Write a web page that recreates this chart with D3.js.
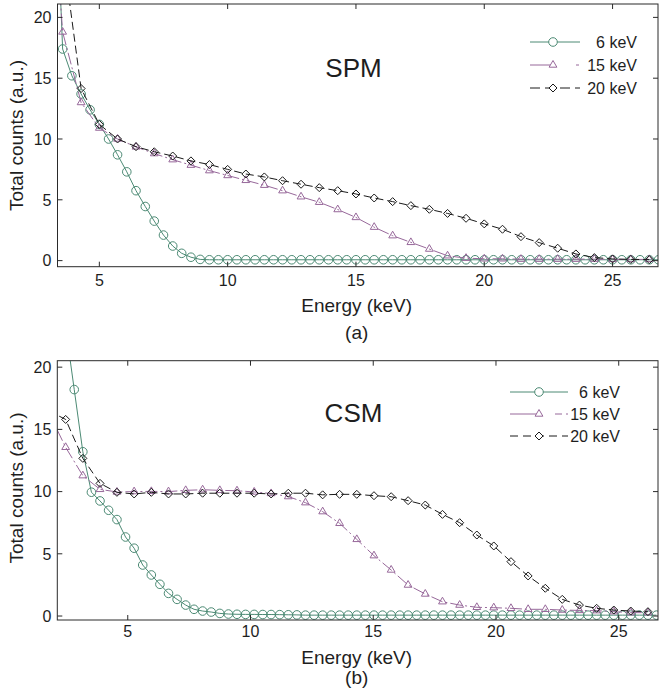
<!DOCTYPE html>
<html>
<head>
<meta charset="utf-8">
<script src="https://cdn.jsdelivr.net/npm/d3@7"></script>
<style>
body { margin: 0; background: #fff; }
text { font-family: Arial, "Liberation Sans", sans-serif; fill: #1e1e1e; }
</style>
</head>
<body>
<div id="chart"></div>
<script>
// energy grids (keV)
var energyFineA = [3.21, 3.57, 3.93, 4.29, 4.64, 5.00, 5.36, 5.71, 6.07, 6.43,
  6.79, 7.14, 7.50, 7.86, 8.21, 8.57, 8.93, 9.29, 9.64, 10.00,
  10.36, 10.71, 11.07, 11.43, 11.79, 12.14, 12.50, 12.86, 13.21, 13.57,
  13.93, 14.29, 14.64, 15.00, 15.36, 15.71, 16.07, 16.43, 16.79, 17.14,
  17.50, 17.86, 18.21, 18.57, 18.93, 19.29, 19.64, 20.00, 20.36, 20.71,
  21.07, 21.43, 21.79, 22.14, 22.50, 22.86, 23.21, 23.57, 23.93, 24.29,
  24.64, 25.00, 25.36, 25.71, 26.07, 26.43, 26.79];
var energyCoarseA = [2.86, 3.57, 4.29, 5.00, 5.71, 6.43, 7.14, 7.86, 8.57, 9.29,
  10.00, 10.71, 11.43, 12.14, 12.86, 13.57, 14.29, 15.00, 15.71, 16.43,
  17.14, 17.86, 18.57, 19.29, 20.00, 20.71, 21.43, 22.14, 22.86, 23.57,
  24.29, 25.00, 25.71, 26.43];
var energyFineB = [2.47, 2.82, 3.17, 3.52, 3.87, 4.22, 4.56, 4.91, 5.26, 5.61,
  5.96, 6.31, 6.66, 7.01, 7.36, 7.70, 8.05, 8.40, 8.75, 9.10,
  9.45, 9.80, 10.15, 10.50, 10.84, 11.19, 11.54, 11.89, 12.24, 12.59,
  12.94, 13.29, 13.63, 13.98, 14.33, 14.68, 15.03, 15.38, 15.73, 16.08,
  16.42, 16.77, 17.12, 17.47, 17.82, 18.17, 18.52, 18.87, 19.22, 19.57,
  19.91, 20.26, 20.61, 20.96, 21.31, 21.66, 22.01, 22.36, 22.70, 23.05,
  23.40, 23.75, 24.10, 24.45, 24.80, 25.15, 25.49, 25.84, 26.19, 26.54];
var energyCoarseB = [1.77, 2.47, 3.17, 3.87, 4.56, 5.26, 5.96, 6.66, 7.36, 8.05,
  8.75, 9.45, 10.15, 10.84, 11.54, 12.24, 12.94, 13.63, 14.33, 15.03,
  15.73, 16.42, 17.12, 17.82, 18.52, 19.22, 19.91, 20.61, 21.31, 22.01,
  22.70, 23.40, 24.10, 24.80, 25.49, 26.19];

// total counts, panel (a) SPM
var spm6 = [36, 17.4, 15.2, 13.7, 12.4, 11.2, 10.0, 8.7, 7.3, 5.75,
  4.45, 3.25, 2.1, 1.2, 0.6, 0.28, 0.1, 0.07, 0.07, 0.07,
  0.07, 0.07, 0.07, 0.07, 0.07, 0.07, 0.07, 0.07, 0.07, 0.07,
  0.07, 0.07, 0.07, 0.07, 0.07, 0.07, 0.07, 0.07, 0.07, 0.07,
  0.07, 0.07, 0.07, 0.07, 0.07, 0.07, 0.07, 0.07, 0.07, 0.07,
  0.07, 0.07, 0.07, 0.07, 0.07, 0.07, 0.07, 0.07, 0.07, 0.07,
  0.07, 0.07, 0.07, 0.07, 0.07, 0.07, 0.07];
var spm15 = [40, 18.8, 13.0, 10.9, 10.0, 9.35, 8.8, 8.3, 7.85, 7.4,
  7.0, 6.6, 6.2, 5.75, 5.25, 4.8, 4.2, 3.55, 2.75, 2.05,
  1.5, 0.95, 0.4, 0.2, 0.15, 0.15, 0.12, 0.12, 0.12, 0.12,
  0.12, 0.1, 0.1, 0.1];
// 20 keV starts one step later (energyCoarseA[1])
var spm20 = [25.5, 14.15, 11.2, 10.0, 9.37, 8.95, 8.6, 8.2, 7.9, 7.5,
  7.12, 6.88, 6.57, 6.28, 6.0, 5.75, 5.48, 5.15, 4.85, 4.52,
  4.22, 3.88, 3.48, 3.02, 2.58, 1.97, 1.48, 1.02, 0.55, 0.25,
  0.14, 0.1, 0.08];

// total counts, panel (b) CSM
var csm6 = [23.2, 18.2, 13.2, 9.95, 9.25, 8.5, 7.75, 6.35, 5.45, 4.1,
  3.3, 2.55, 1.82, 1.34, 0.88, 0.54, 0.4, 0.32, 0.21, 0.16,
  0.14, 0.13, 0.13, 0.12, 0.12, 0.11, 0.1, 0.09, 0.07, 0.07,
  0.07, 0.07, 0.07, 0.07, 0.07, 0.07, 0.07, 0.07, 0.07, 0.07,
  0.07, 0.07, 0.07, 0.07, 0.07, 0.07, 0.07, 0.07, 0.07, 0.07,
  0.07, 0.07, 0.07, 0.07, 0.07, 0.07, 0.07, 0.07, 0.07, 0.07,
  0.07, 0.07, 0.07, 0.07, 0.07, 0.07, 0.07, 0.07, 0.07, 0.07];
var csm15 = [16.4, 13.56, 11.28, 10.18, 9.97, 10.0, 10.02, 10.0, 10.1, 10.15,
  10.1, 10.07, 9.97, 9.85, 9.6, 9.11, 8.39, 7.45, 6.16, 4.85,
  3.7, 2.49, 1.77, 1.15, 0.88, 0.7, 0.67, 0.62, 0.54, 0.54,
  0.48, 0.45, 0.43, 0.35, 0.27, 0.27];
var csm20 = [16.5, 15.8, 12.67, 10.66, 9.94, 9.81, 9.94, 9.81, 9.81, 9.87,
  9.87, 9.87, 9.87, 9.81, 9.87, 9.87, 9.74, 9.78, 9.78, 9.67,
  9.59, 9.27, 8.92, 8.17, 7.5, 6.51, 5.63, 4.37, 3.22, 2.23,
  1.34, 0.88, 0.62, 0.48, 0.4, 0.35];

var xTicks = [5, 10, 15, 20, 25];
var yTicks = [0, 5, 10, 15, 20];
var seriesNames = ["6 keV", "15 keV", "20 keV"];

var green = "#4c8a74", purple = "#97689a", black = "#1a1a1a";

var svg = d3.select("#chart").append("svg")
    .attr("width", 660)
    .attr("height", 700);

// marker shapes
function markerPath(kind) {
  if (kind == "tri") return "M0,-4.5L3.9,2.2L-3.9,2.2Z";
  if (kind == "dia") return "M0,-4L4,0L0,4L-4,0Z";
  return null;
}

function zip(xs, ys) {
  return ys.map(function(v, i) { return {e: xs[i], v: v}; });
}

var panels = [
  {id: "a", name: "SPM", left: 57.5, right: 658, top: 4, bottom: 266.7,
   xDomain: [3.37, 26.77], yDomain: [-0.5, 21.1], tickLabelY: 285.5,
   titleY: 312, capY: 339, yLabelY: 135.5, nameY: 77,
   legend: {x0: 530, x1: 580, xm: 553, xt: 637, y: [42, 65, 88],
            dash15: "22,24,3,10", dash20: "10,5"},
   series: [
     {data: zip(energyFineA, spm6), color: green, mark: "circle", dash: null},
     {data: zip(energyCoarseA, spm15), color: purple, mark: "tri", dash: "12,3,2,3"},
     {data: zip(energyCoarseA.slice(1), spm20), color: black, mark: "dia", dash: "8,4"}
   ]},
  {id: "b", name: "CSM", left: 57.3, right: 658, top: 360.7, bottom: 620,
   xDomain: [2.13, 26.6], yDomain: [-0.32, 20.52], tickLabelY: 637,
   titleY: 663.5, capY: 683.5, yLabelY: 488, nameY: 421.5,
   legend: {x0: 510, x1: 568, xm: 539, xt: 620, y: [392, 414, 436],
            dash15: "28,17,7,4,2,10", dash20: "8,5"},
   series: [
     {data: zip(energyFineB, csm6), color: green, mark: "circle", dash: null},
     {data: zip(energyCoarseB, csm15), color: purple, mark: "tri", dash: "12,3,2,3"},
     {data: zip(energyCoarseB, csm20), color: black, mark: "dia", dash: "8,4"}
   ]}
];

panels.forEach(function(p) {
  var x = d3.scaleLinear().domain(p.xDomain).range([p.left, p.right]);
  var y = d3.scaleLinear().domain(p.yDomain).range([p.bottom, p.top]);
  var w = p.right - p.left, h = p.bottom - p.top;

  svg.append("clipPath").attr("id", "clip-" + p.id)
    .append("rect")
      .attr("x", p.left).attr("y", p.top)
      .attr("width", w).attr("height", h);

  var plot = svg.append("g").attr("clip-path", "url(#clip-" + p.id + ")");

  var line = d3.line()
      .x(function(d) { return x(d.e); })
      .y(function(d) { return y(d.v); });

  p.series.forEach(function(s) {
    plot.append("path")
        .datum(s.data)
        .attr("d", line)
        .attr("fill", "none")
        .attr("stroke", s.color)
        .attr("stroke-width", 1)
        .attr("stroke-dasharray", s.dash);

    var pts = plot.selectAll(null).data(s.data).enter();
    if (s.mark == "circle") {
      pts.append("circle")
          .attr("cx", function(d) { return x(d.e); })
          .attr("cy", function(d) { return y(d.v); })
          .attr("r", 4.3)
          .attr("fill", "none")
          .attr("stroke", s.color);
    } else {
      pts.append("path")
          .attr("d", markerPath(s.mark))
          .attr("transform", function(d) { return "translate(" + x(d.e) + "," + y(d.v) + ")"; })
          .attr("fill", "none")
          .attr("stroke", s.color);
    }
  });

  // frame
  svg.append("rect")
      .attr("x", p.left).attr("y", p.top)
      .attr("width", w).attr("height", h)
      .attr("fill", "none")
      .attr("stroke", "#2a2a2a")
      .attr("stroke-width", 1);

  // inward ticks on all four sides
  var tk = svg.append("g").attr("stroke", "#2a2a2a").attr("stroke-width", 1);
  xTicks.forEach(function(t) {
    tk.append("line").attr("x1", x(t)).attr("x2", x(t)).attr("y1", p.bottom).attr("y2", p.bottom - 5);
    tk.append("line").attr("x1", x(t)).attr("x2", x(t)).attr("y1", p.top).attr("y2", p.top + 5);
  });
  yTicks.forEach(function(t) {
    tk.append("line").attr("x1", p.left).attr("x2", p.left + 5).attr("y1", y(t)).attr("y2", y(t));
    tk.append("line").attr("x1", p.right).attr("x2", p.right - 5).attr("y1", y(t)).attr("y2", y(t));
  });

  svg.selectAll(null).data(xTicks).enter().append("text")
      .attr("x", function(d) { return x(d); })
      .attr("y", p.tickLabelY)
      .attr("text-anchor", "middle")
      .style("font-size", "16px")
      .text(function(d) { return d; });

  svg.selectAll(null).data(yTicks).enter().append("text")
      .attr("x", p.left - 6)
      .attr("y", function(d) { return y(d); })
      .attr("dy", "0.36em")
      .attr("text-anchor", "end")
      .style("font-size", "16px")
      .text(function(d) { return d; });

  // axis titles and caption
  svg.append("text")
      .attr("x", 356.7).attr("y", p.titleY)
      .attr("text-anchor", "middle")
      .style("font-size", "19px")
      .text("Energy (keV)");
  svg.append("text")
      .attr("x", 356.7).attr("y", p.capY)
      .attr("text-anchor", "middle")
      .style("font-size", "19px")
      .text("(" + p.id + ")");
  svg.append("text")
      .attr("transform", "translate(23," + p.yLabelY + ") rotate(-90)")
      .attr("text-anchor", "middle")
      .style("font-size", "19px")
      .text("Total counts (a.u.)");

  svg.append("text")
      .attr("x", 353.5).attr("y", p.nameY)
      .attr("text-anchor", "middle")
      .style("font-size", "26px")
      .text(p.name);

  // legend
  var lg = p.legend;
  var dashes = [null, lg.dash15, lg.dash20];
  p.series.forEach(function(s, i) {
    var ly = lg.y[i];
    svg.append("line")
        .attr("x1", lg.x0).attr("x2", lg.x1)
        .attr("y1", ly).attr("y2", ly)
        .attr("stroke", s.color)
        .attr("stroke-dasharray", dashes[i]);
    if (s.mark == "circle") {
      svg.append("circle").attr("cx", lg.xm).attr("cy", ly).attr("r", 4.3)
          .attr("fill", "#fff").attr("stroke", s.color);
    } else {
      svg.append("path").attr("d", markerPath(s.mark))
          .attr("transform", "translate(" + lg.xm + "," + ly + ")")
          .attr("fill", "#fff").attr("stroke", s.color);
    }
    svg.append("text")
        .attr("x", lg.xt).attr("y", ly)
        .attr("dy", "0.36em")
        .attr("text-anchor", "end")
        .style("font-size", "16px")
        .text(seriesNames[i]);
  });
});
</script>
</body>
</html>
